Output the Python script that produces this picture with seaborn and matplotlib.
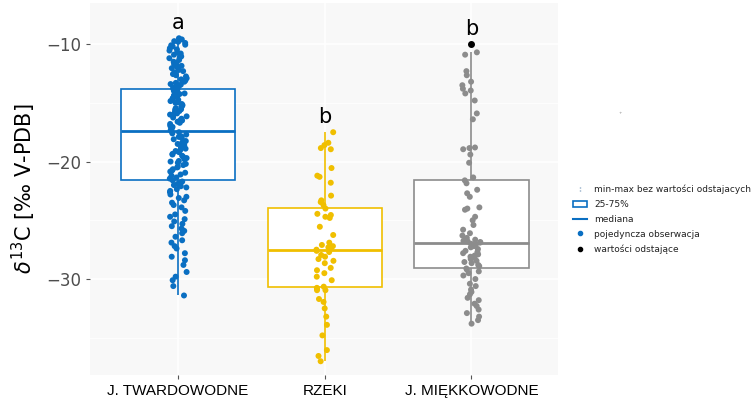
import numpy as np
import pandas as pd
import matplotlib.pyplot as plt
import seaborn as sns
from matplotlib.lines import Line2D
from matplotlib.patches import Patch
from matplotlib.ticker import MultipleLocator

# grupy jezior / rzek i kolory
categories = ['J. TWARDOWODNE', 'RZEKI', 'J. MIĘKKOWODNE']
colors = ['#0a6fc2', '#f0bf00', '#8c8c8c']
letters = ['a', 'b', 'b']

# wartości d13C
twardowodne = [
    -9.5, -9.6, -9.75, -9.8, -9.9, -10.05, -10.1, -10.2, -10.35, -10.45,
    -10.55, -10.7, -10.8, -10.9, -11.05, -11.15, -11.2, -11.35, -11.5, -11.6,
    -11.7, -11.85, -11.95, -12.05, -12.2, -12.3, -12.4, -12.55, -12.65, -12.75,
    -12.9, -13.0, -13.1, -13.2, -13.3, -13.4, -13.45, -13.55, -13.65, -13.75,
    -13.8, -13.85, -13.95, -14.0, -14.1, -14.2, -14.25, -14.35, -14.4, -14.5,
    -14.6, -14.7, -14.75, -14.85, -14.95, -15.0, -15.1, -15.2, -15.3, -15.35,
    -15.45, -15.55, -15.6, -15.7, -15.8, -15.9, -16.0, -16.05, -16.15, -16.25,
    -16.35, -16.45, -16.5, -16.6, -16.7, -16.8, -16.95, -17.05, -17.2, -17.3,
    -17.4,
    -17.5, -17.6, -17.7, -17.85, -17.9, -18.0, -18.1, -18.25, -18.3, -18.4,
    -18.5, -18.6, -18.75, -18.8, -18.9, -19.0, -19.1, -19.2, -19.35, -19.4,
    -19.5, -19.6, -19.7, -19.8, -19.95, -20.0, -20.1, -20.2, -20.3, -20.45,
    -20.5, -20.65, -20.75, -20.85, -20.95, -21.1, -21.2, -21.35, -21.45, -21.6,
    -21.7, -21.8, -21.9, -22.0, -22.1, -22.2, -22.35, -22.5, -22.6, -22.8,
    -23.0, -23.1, -23.3, -23.5, -23.7, -23.9, -24.2, -24.5, -24.7, -24.9,
    -25.1, -25.3, -25.5, -25.7, -25.9, -26.1, -26.4, -26.7, -26.9, -27.2,
    -27.4, -27.8, -28.1, -28.4, -28.8, -29.4, -29.8, -30.1, -30.6, -31.4,
]
rzeki = [
    -17.5, -18.4, -18.6, -18.85, -18.95, -20.55, -21.2, -21.3, -21.8, -22.9,
    -23.3, -23.45, -23.7,
    -24.0, -24.45, -24.55, -24.7, -24.8, -25.55, -26.25, -26.9, -27.1, -27.2,
    -27.3, -27.4, -27.5,
    -27.6,
    -27.7, -27.95, -28.1, -28.3, -28.45, -28.65, -29.05, -29.25, -29.5, -29.8,
    -30.1, -30.65, -30.75,
    -30.8, -30.95, -30.95, -31.7, -31.95, -32.5, -33.2, -33.9, -34.8, -36.05,
    -36.55, -37.0,
]
miekkowodne = [
    -10.0,
    -10.7, -10.9, -12.3, -12.65, -13.2, -13.5, -13.8, -13.95, -14.2, -14.8,
    -15.9, -16.4, -18.8, -18.85, -18.95, -19.4, -20.1, -21.35,
    -21.6, -21.85, -22.4, -22.7, -23.0, -23.9, -24.0, -24.1, -24.7, -25.0,
    -25.4, -25.8, -26.1, -26.3, -26.5, -26.65, -26.75, -26.8, -26.85,
    -26.9,
    -27.0, -27.1, -27.2, -27.3, -27.45, -27.6, -27.7, -27.8, -27.9, -28.0,
    -28.1, -28.2, -28.3, -28.45, -28.55, -28.65, -28.8, -28.9, -29.1,
    -29.2, -29.35, -29.5, -29.7, -30.0, -30.4, -30.6, -30.9, -31.1, -31.3,
    -31.6, -31.8, -32.1, -32.3, -32.6, -32.9, -33.2, -33.5, -33.8,
]

df = pd.concat([
    pd.DataFrame({'grupa': categories[0], 'd13C': twardowodne}),
    pd.DataFrame({'grupa': categories[1], 'd13C': rzeki}),
    pd.DataFrame({'grupa': categories[2], 'd13C': miekkowodne}),
], ignore_index=True)

# punkty odstające (poza 1.5 IQR) nie są rysowane w chmurze punktów
q = df.groupby('grupa')['d13C'].quantile([0.25, 0.75]).unstack()
iqr = q[0.75] - q[0.25]
lo = df['grupa'].map(q[0.25] - 1.5 * iqr)
hi = df['grupa'].map(q[0.75] + 1.5 * iqr)
df_pts = df[(df['d13C'] >= lo) & (df['d13C'] <= hi)]

fig = plt.figure(figsize=(7.56, 4.11), dpi=100)
ax = fig.add_axes([90 / 756, 1 - 375 / 411, 468 / 756, 372 / 411])
ax.set_facecolor('#f8f8f8')

for cat, col in zip(categories, colors):
    sns.boxplot(
        data=df[df['grupa'] == cat], x='grupa', y='d13C', order=categories,
        color='white', linecolor=col, linewidth=1.2, width=0.78,
        showcaps=False, saturation=1,
        medianprops={'linewidth': 2.0},
        flierprops={'marker': 'o', 'markerfacecolor': 'black',
                    'markeredgecolor': 'black', 'markersize': 4},
        ax=ax, zorder=2,
    )

np.random.seed(3)
sns.stripplot(
    data=df_pts, x='grupa', y='d13C', hue='grupa', order=categories,
    hue_order=categories, palette=colors, jitter=0.062, size=4.3,
    linewidth=0, legend=False, ax=ax, zorder=3,
)

# litery grup jednorodnych
for i, (cat, let) in enumerate(zip(categories, letters)):
    top = df.loc[df['grupa'] == cat, 'd13C'].max()
    ax.text(i, top + 0.8, let, ha='center', va='baseline', fontsize=15, color='black')

ax.set_xlim(-0.60, 2.59)
ax.set_ylim(-38.17, -6.5)
ax.set_yticks([-10, -20, -30])
ax.yaxis.set_minor_locator(MultipleLocator(5))
ax.tick_params(axis='y', which='minor', length=0)
ax.tick_params(axis='both', which='major', length=3, color='#555555', width=0.8)
ax.tick_params(axis='y', labelsize=12, labelcolor='#4d4d4d')
ax.tick_params(axis='x', labelsize=11, labelcolor='black')
for lab in ax.get_xticklabels():
    lab.set_fontfamily('Liberation Sans')
ax.grid(which='major', color='white', linewidth=1.1)
ax.grid(which='minor', axis='y', color='white', linewidth=0.6)
ax.set_axisbelow(True)
for s in ax.spines.values():
    s.set_visible(False)

ax.set_xlabel('')
ax.set_ylabel(r'$\delta^{13}$C [‰ V-PDB]', fontsize=15, labelpad=6)

handles = [
    Line2D([], [], linestyle='none', marker='$:$', color='#6a8fb5', markersize=3),
    Patch(facecolor='white', edgecolor='#0a6fc2', linewidth=1.2),
    Line2D([], [], color='#0a6fc2', linewidth=1.5),
    Line2D([], [], linestyle='none', marker='o', color='#0a6fc2', markersize=3),
    Line2D([], [], linestyle='none', marker='o', color='black', markersize=3),
]
labels = ['min-max bez wartości odstajacych', '25-75%', 'mediana',
          'pojedyncza obserwacja', 'wartości odstające']
fig.legend(handles, labels, loc='upper left', bbox_to_anchor=(568 / 756, 1 - 180 / 411),
           frameon=False, fontsize=6.5, handlelength=1.6, handletextpad=0.8,
           labelspacing=0.65, borderpad=0, labelcolor='#222222')

fig.text(620 / 756, 1 - 113 / 411, '+', fontsize=3, color='#888888', ha='center', va='center')

fig.savefig('out.png', dpi=100)
